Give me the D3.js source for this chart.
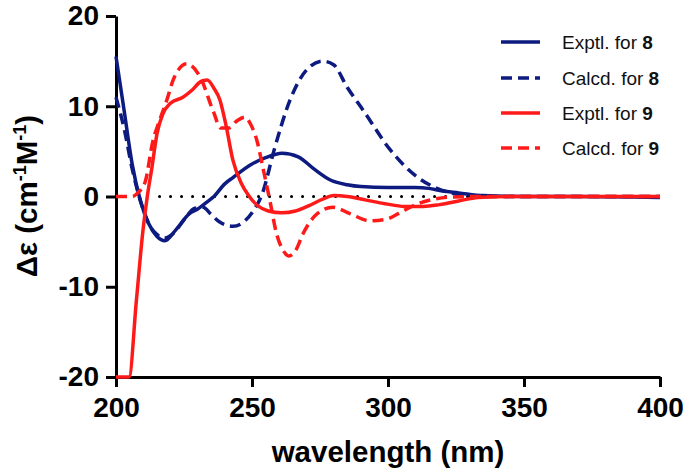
<!DOCTYPE html>
<html>
<head>
<meta charset="utf-8">
<style type="text/css">
  body { margin: 0; background: #fff; }
  svg text { font-family: "Liberation Sans", Arial, sans-serif; }
</style>
</head>
<body>
<div id="chart"></div>
<script src="https://cdn.jsdelivr.net/npm/d3@7"></script>
<script>
// wavelength (nm) / delta epsilon values
var expt8X = [200,203,206,209,212,215,218,222,227,230,233,236,240,243,250,255,261,267,273,279,285,290,300,310,315,320,326,335,350,370,400];
var expt8Y = [15.5,9.5,3.5,-0.5,-3,-4.4,-4.9,-3.7,-1.9,-1.4,-0.7,0,1.4,2.1,3.6,4.3,4.8,4.4,3,1.8,1.3,1.1,1.0,1.0,0.9,0.6,0.4,0.1,0,0,-0.1];

var calc8X = [200,203,206,209,212,215,218,221,225,229,232,235,238,243,247,250,254,258,264,270,276,280,285,291,301,311,318,325,335,400];
var calc8Y = [11,7.5,3,-0.5,-3,-4.2,-4.6,-4.1,-2.6,-1.3,-1.2,-2,-2.8,-3.3,-2.8,-1.8,0.5,5,10.7,14,15,14.6,12.1,9.5,5.1,2.1,0.9,0.3,0,0];

var expt9X = [200,204.8,207.5,209.9,211.5,213.2,215.1,217.3,219.9,224.6,228,231,233.5,236,238.2,240.5,243,246,249,252,256,261,266,271,276,280,285,292,299,306,313,319,326,333,345,400];
var expt9Y = [-20,-20,-11.5,-3.8,0,3.2,7,9.2,10.3,11,11.8,12.7,12.9,12,10.7,7.8,4,1.5,0,-1,-1.6,-1.8,-1.6,-1,-0.3,0.1,0,-0.4,-0.8,-1.1,-1.1,-0.9,-0.5,-0.1,0,0];

var calc9X = [200,206,208,210.7,213.6,216,218.7,221,226,231,235.7,238.5,241.5,244.5,247.4,249.5,251.8,254,256.6,259,261.5,263.6,266,268.8,274,279.8,286,293.4,299.6,305.5,311,317,324,335,400];
var calc9Y = [0,0,0.4,1.6,6.2,8.4,10.7,12.9,14.7,13.2,9.5,7.6,7.6,8.4,8.8,8,6.2,3.2,-0.5,-4.1,-6,-6.6,-6,-4.1,-1.9,-1.2,-1.9,-2.7,-2.5,-1.6,-0.8,-0.3,-0.05,0,0];

var xTicks = [200, 250, 300, 350, 400];
var yTicks = [-20, -10, 0, 10, 20];
var zeroLineX = [216, 400];

var seriesNames = ['Exptl. for ', 'Calcd. for ', 'Exptl. for ', 'Calcd. for '];
var seriesNums = ['8', '8', '9', '9'];
var seriesColors = ['#0d1a80', '#0d1a80', '#ff1a1a', '#ff1a1a'];
var seriesDashed = [false, true, false, true];

var W = 685, H = 470;
var svg = d3.select('#chart').append('svg')
  .attr('width', W).attr('height', H);

var x = d3.scaleLinear().domain([200, 400]).range([116, 660]);
var y = d3.scaleLinear().domain([-20, 20]).range([377, 16]);

// axes first, curves sit on top of them
var xAxis = d3.axisBottom(x).tickValues(xTicks).tickSize(10).tickSizeOuter(0).tickPadding(10)
  .tickFormat(function(d){ return String(d); });
var yAxis = d3.axisLeft(y).tickValues(yTicks).tickSize(10).tickSizeOuter(0).tickPadding(7)
  .tickFormat(function(d){ return String(d); });

var gx = svg.append('g').attr('transform', 'translate(0,' + y(-20) + ')').call(xAxis);
var gy = svg.append('g').attr('transform', 'translate(' + x(200) + ',0)').call(yAxis);

[gx, gy].forEach(function(g){
  g.select('.domain').style('stroke', '#000').style('stroke-width', 3);
  g.selectAll('.tick line').style('stroke', '#000').style('stroke-width', 3);
  g.selectAll('.tick text')
    .style('font-family', '"Liberation Sans", Arial, sans-serif')
    .style('font-size', '28px')
    .style('font-weight', 'bold')
    .style('fill', '#000');
});

// zero reference (dotted)
svg.append('line')
  .attr('x1', x(zeroLineX[0])).attr('x2', x(zeroLineX[1]))
  .attr('y1', y(0)).attr('y2', y(0))
  .style('stroke', '#000')
  .style('stroke-width', 3)
  .style('stroke-linecap', 'round')
  .style('stroke-dasharray', '0.1,10.9');

var line = d3.line()
  .x(function(d){ return x(d[0]); })
  .y(function(d){ return y(d[1]); })
  .curve(d3.curveMonotoneX);

var allX = [expt8X, calc8X, expt9X, calc9X];
var allY = [expt8Y, calc8Y, expt9Y, calc9Y];
var drawOrder = [1, 0, 3, 2];

drawOrder.forEach(function(i){
  var pts = allX[i].map(function(v, k){ return [v, allY[i][k]]; });
  svg.append('path')
    .datum(pts)
    .attr('d', line)
    .style('fill', 'none')
    .style('stroke', seriesColors[i])
    .style('stroke-width', 3.5)
    .style('stroke-dasharray', seriesDashed[i] ? '11,6' : null);
});

// axis titles
svg.append('text')
  .attr('x', 388).attr('y', 462)
  .attr('text-anchor', 'middle')
  .style('font-size', '29.5px').style('font-weight', 'bold')
  .text('wavelength (nm)');

var yt = svg.append('text')
  .attr('transform', 'translate(37,196) rotate(-90)')
  .attr('text-anchor', 'middle')
  .style('font-size', '29.5px').style('font-weight', 'bold');
yt.append('tspan').text('\u0394\u03b5 (cm');
yt.append('tspan').attr('dy', -11).style('font-size', '18px').text('-1');
yt.append('tspan').attr('dy', 11).text('M');
yt.append('tspan').attr('dy', -11).style('font-size', '18px').text('-1');
yt.append('tspan').attr('dy', 11).text(')');

// legend
var legY = [42, 78, 113, 148];
seriesNames.forEach(function(name, i){
  svg.append('line')
    .attr('x1', 501).attr('x2', 540)
    .attr('y1', legY[i]).attr('y2', legY[i])
    .style('stroke', seriesColors[i])
    .style('stroke-width', 3.5)
    .style('stroke-dasharray', seriesDashed[i] ? '11,6' : null);
  var t = svg.append('text')
    .attr('x', 562).attr('y', legY[i] + 7)
    .style('font-size', '19px').style('fill', '#111');
  t.append('tspan').text(name);
  t.append('tspan').style('font-weight', 'bold').text(seriesNums[i]);
});
</script>
</body>
</html>
